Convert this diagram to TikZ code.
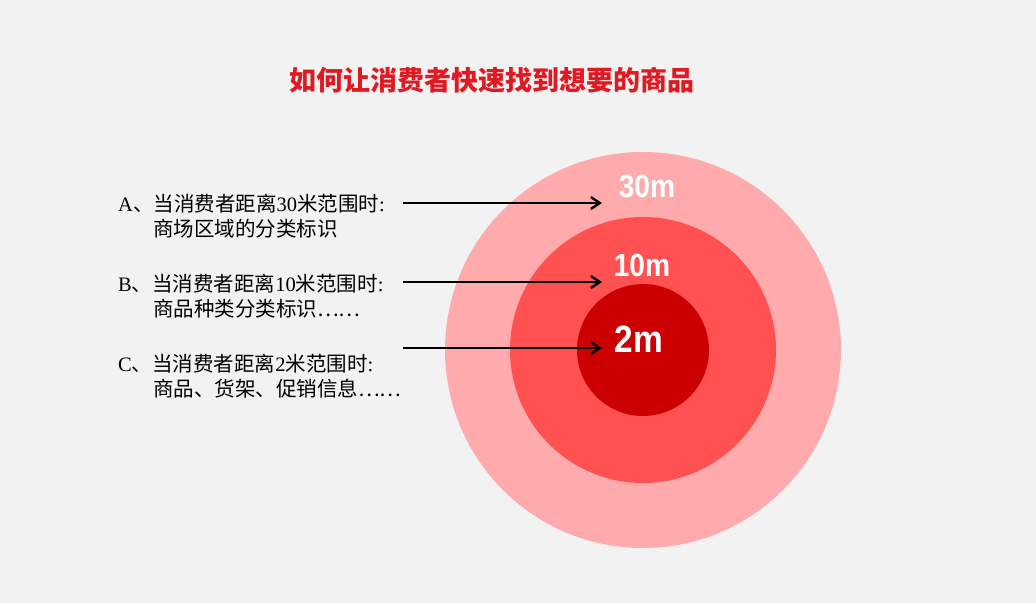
\documentclass[tikz,border=0pt]{standalone}
\usepackage{fontspec}
\usepackage{xcolor}
\setmainfont{Liberation Serif}
\newfontfamily\cjk{Noto Sans CJK SC}
\newfontfamily\numfont[FakeStretch=0.88]{Liberation Sans}
\usetikzlibrary{arrows.meta}

\definecolor{bggray}{HTML}{F2F2F2}
\definecolor{titlered}{HTML}{E01A22}
\definecolor{ringout}{HTML}{FFAAAC}
\definecolor{ringmid}{HTML}{FF5052}
\definecolor{ringin}{HTML}{CC0000}

\newcommand{\zh}[1]{{\cjk #1}}

\tikzset{
  ring/.style={circle, draw=none, inner sep=0pt},
  item/.style={anchor=west, inner sep=0pt, font=\fontsize{20.5}{24}\selectfont},
  dist/.style={text=white, inner sep=0pt, font=\numfont\bfseries\fontsize{32}{32}\selectfont},
  pointer/.style={-{Straight Barb[length=9pt,width=12pt]}, line width=2.4pt}
}

\begin{document}
\begin{tikzpicture}[x=1pt, y=-1pt]
\useasboundingbox (0,0) rectangle (1036,603);
\fill [bggray] (0,0) rectangle (1036,603);

\node [font=\cjk\bfseries\fontsize{27}{27}\selectfont, text=titlered] (title) at (492,80) {如何让消费者快速找到想要的商品};

\node [ring, fill=ringout, minimum size=396pt] (outer) at (643,350) {};
\node [ring, fill=ringmid, minimum size=266pt] (middle) at (643,350) {};
\node [ring, fill=ringin, minimum size=132pt] (inner) at (643,350) {};

\node [dist] (d30) at (647,187) {30m};
\node [dist] (d10) at (642,265) {10m};
\node [dist, font=\numfont\bfseries\fontsize{38}{38}\selectfont] (d2) at (639,339) {2m};

\node [item] (a1) at (118,204) {A\zh{、当消费者距离}30\zh{米范围时}:};
\node [item] (a2) at (153,229) {\zh{商场区域的分类标识}};
\node [item] (b1) at (118,284) {B\zh{、当消费者距离}10\zh{米范围时}:};
\node [item] (b2) at (153,309) {\zh{商品种类分类标识……}};
\node [item] (c1) at (118,364) {C\zh{、当消费者距离}2\zh{米范围时}:};
\node [item] (c2) at (153,389) {\zh{商品、货架、促销信息……}};

\coordinate (sa) at (403,203);
\coordinate (ea) at (602,203);
\coordinate (sb) at (403,282);
\coordinate (eb) at (602,282);
\coordinate (sc) at (403,348);
\coordinate (ec) at (602,348);

\draw [pointer] (sa) -- (ea);
\draw [pointer] (sb) -- (eb);
\draw [pointer] (sc) -- (ec);
\end{tikzpicture}
\end{document}
